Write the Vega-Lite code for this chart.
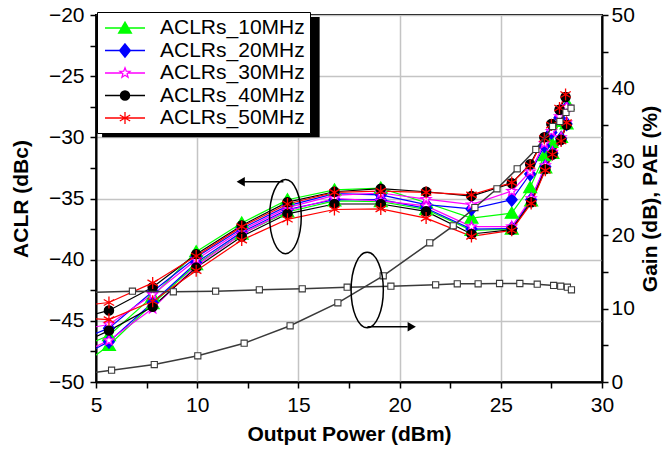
{
  "$schema": "https://vega.github.io/schema/vega-lite/v6.json",
  "width": 506,
  "height": 367,
  "autosize": "none",
  "padding": {"left": 96, "top": 15, "right": 67, "bottom": 73},
  "background": "white",
  "config": {
    "font": "Liberation Sans",
    "view": {"stroke": "black", "strokeWidth": 2},
    "axis": {
      "domainColor": "black", "domainWidth": 2,
      "tickColor": "black", "tickWidth": 1.5, "tickSize": 6,
      "labelFont": "Liberation Sans", "labelFontSize": 21, "labelColor": "black",
      "titleFont": "Liberation Sans", "titleFontSize": 21, "titleFontWeight": "bold", "titleColor": "black",
      "gridColor": "#c4c4c4", "gridWidth": 1.5
    },
    "legend": {
      "labelFont": "Liberation Sans", "labelFontSize": 21, "labelColor": "black",
      "symbolSize": 400, "padding": 5, "rowPadding": 1.5, "labelOffset": 24, "symbolOffset": 12,
      "symbolStrokeWidth": 1.3
    }
  },
  "datasets": {
    "aclr": [
      {"s":"ACLRs_10MHz","c":"U","x":4.6,"y":-46.9},{"s":"ACLRs_10MHz","c":"U","x":5.64,"y":-46.2},{"s":"ACLRs_10MHz","c":"U","x":7.8,"y":-43.0},{"s":"ACLRs_10MHz","c":"U","x":9.95,"y":-39.35},{"s":"ACLRs_10MHz","c":"U","x":12.2,"y":-37.0},{"s":"ACLRs_10MHz","c":"U","x":14.46,"y":-35.1},{"s":"ACLRs_10MHz","c":"U","x":16.78,"y":-34.3},{"s":"ACLRs_10MHz","c":"U","x":19.07,"y":-34.15},{"s":"ACLRs_10MHz","c":"U","x":21.31,"y":-35.35},{"s":"ACLRs_10MHz","c":"U","x":23.55,"y":-36.6},{"s":"ACLRs_10MHz","c":"U","x":25.54,"y":-36.2},{"s":"ACLRs_10MHz","c":"U","x":26.45,"y":-34.1},{"s":"ACLRs_10MHz","c":"U","x":27.15,"y":-31.5},{"s":"ACLRs_10MHz","c":"U","x":27.5,"y":-30.4},{"s":"ACLRs_10MHz","c":"U","x":27.9,"y":-28.7},{"s":"ACLRs_10MHz","c":"U","x":28.3,"y":-27.3},
      {"s":"ACLRs_10MHz","c":"L","x":4.6,"y":-48.3},{"s":"ACLRs_10MHz","c":"L","x":5.64,"y":-47.0},{"s":"ACLRs_10MHz","c":"L","x":7.8,"y":-43.6},{"s":"ACLRs_10MHz","c":"L","x":9.95,"y":-40.4},{"s":"ACLRs_10MHz","c":"L","x":12.2,"y":-37.9},{"s":"ACLRs_10MHz","c":"L","x":14.46,"y":-36.1},{"s":"ACLRs_10MHz","c":"L","x":16.78,"y":-35.2},{"s":"ACLRs_10MHz","c":"L","x":19.07,"y":-35.25},{"s":"ACLRs_10MHz","c":"L","x":21.31,"y":-35.9},{"s":"ACLRs_10MHz","c":"L","x":23.55,"y":-37.6},{"s":"ACLRs_10MHz","c":"L","x":25.54,"y":-37.5},{"s":"ACLRs_10MHz","c":"L","x":26.5,"y":-35.2},{"s":"ACLRs_10MHz","c":"L","x":27.2,"y":-32.5},{"s":"ACLRs_10MHz","c":"L","x":27.55,"y":-31.3},{"s":"ACLRs_10MHz","c":"L","x":27.98,"y":-30.0},{"s":"ACLRs_10MHz","c":"L","x":28.25,"y":-28.9},
      {"s":"ACLRs_20MHz","c":"U","x":4.6,"y":-46.3},{"s":"ACLRs_20MHz","c":"U","x":5.64,"y":-45.6},{"s":"ACLRs_20MHz","c":"U","x":7.8,"y":-42.6},{"s":"ACLRs_20MHz","c":"U","x":9.95,"y":-39.8},{"s":"ACLRs_20MHz","c":"U","x":12.2,"y":-37.45},{"s":"ACLRs_20MHz","c":"U","x":14.46,"y":-35.6},{"s":"ACLRs_20MHz","c":"U","x":16.78,"y":-34.6},{"s":"ACLRs_20MHz","c":"U","x":19.07,"y":-34.7},{"s":"ACLRs_20MHz","c":"U","x":21.31,"y":-35.5},{"s":"ACLRs_20MHz","c":"U","x":23.55,"y":-35.85},{"s":"ACLRs_20MHz","c":"U","x":25.54,"y":-35.1},{"s":"ACLRs_20MHz","c":"U","x":26.45,"y":-33.0},{"s":"ACLRs_20MHz","c":"U","x":27.15,"y":-30.7},{"s":"ACLRs_20MHz","c":"U","x":27.5,"y":-29.6},{"s":"ACLRs_20MHz","c":"U","x":27.9,"y":-28.4},{"s":"ACLRs_20MHz","c":"U","x":28.25,"y":-27.6},
      {"s":"ACLRs_20MHz","c":"L","x":4.6,"y":-47.6},{"s":"ACLRs_20MHz","c":"L","x":5.64,"y":-46.7},{"s":"ACLRs_20MHz","c":"L","x":7.8,"y":-43.5},{"s":"ACLRs_20MHz","c":"L","x":9.95,"y":-40.25},{"s":"ACLRs_20MHz","c":"L","x":12.2,"y":-37.75},{"s":"ACLRs_20MHz","c":"L","x":14.46,"y":-35.9},{"s":"ACLRs_20MHz","c":"L","x":16.78,"y":-35.1},{"s":"ACLRs_20MHz","c":"L","x":19.07,"y":-35.1},{"s":"ACLRs_20MHz","c":"L","x":21.31,"y":-35.8},{"s":"ACLRs_20MHz","c":"L","x":23.55,"y":-37.5},{"s":"ACLRs_20MHz","c":"L","x":25.54,"y":-37.45},{"s":"ACLRs_20MHz","c":"L","x":26.5,"y":-35.1},{"s":"ACLRs_20MHz","c":"L","x":27.2,"y":-32.4},{"s":"ACLRs_20MHz","c":"L","x":27.55,"y":-31.3},{"s":"ACLRs_20MHz","c":"L","x":27.98,"y":-30.1},{"s":"ACLRs_20MHz","c":"L","x":28.25,"y":-28.9},
      {"s":"ACLRs_30MHz","c":"U","x":4.6,"y":-45.6},{"s":"ACLRs_30MHz","c":"U","x":5.64,"y":-45.3},{"s":"ACLRs_30MHz","c":"U","x":7.8,"y":-42.85},{"s":"ACLRs_30MHz","c":"U","x":9.95,"y":-40.0},{"s":"ACLRs_30MHz","c":"U","x":12.2,"y":-37.6},{"s":"ACLRs_30MHz","c":"U","x":14.46,"y":-35.75},{"s":"ACLRs_30MHz","c":"U","x":16.78,"y":-34.75},{"s":"ACLRs_30MHz","c":"U","x":19.07,"y":-34.55},{"s":"ACLRs_30MHz","c":"U","x":21.31,"y":-35.05},{"s":"ACLRs_30MHz","c":"U","x":23.55,"y":-35.5},{"s":"ACLRs_30MHz","c":"U","x":25.54,"y":-34.4},{"s":"ACLRs_30MHz","c":"U","x":26.45,"y":-32.8},{"s":"ACLRs_30MHz","c":"U","x":27.15,"y":-30.5},{"s":"ACLRs_30MHz","c":"U","x":27.5,"y":-29.5},{"s":"ACLRs_30MHz","c":"U","x":27.9,"y":-28.3},{"s":"ACLRs_30MHz","c":"U","x":28.25,"y":-27.5},
      {"s":"ACLRs_30MHz","c":"L","x":4.6,"y":-47.4},{"s":"ACLRs_30MHz","c":"L","x":5.64,"y":-46.6},{"s":"ACLRs_30MHz","c":"L","x":7.8,"y":-44.0},{"s":"ACLRs_30MHz","c":"L","x":9.95,"y":-40.5},{"s":"ACLRs_30MHz","c":"L","x":12.2,"y":-37.9},{"s":"ACLRs_30MHz","c":"L","x":14.46,"y":-36.0},{"s":"ACLRs_30MHz","c":"L","x":16.78,"y":-35.0},{"s":"ACLRs_30MHz","c":"L","x":19.07,"y":-35.2},{"s":"ACLRs_30MHz","c":"L","x":21.31,"y":-35.6},{"s":"ACLRs_30MHz","c":"L","x":23.55,"y":-37.3},{"s":"ACLRs_30MHz","c":"L","x":25.54,"y":-37.3},{"s":"ACLRs_30MHz","c":"L","x":26.5,"y":-35.0},{"s":"ACLRs_30MHz","c":"L","x":27.2,"y":-32.3},{"s":"ACLRs_30MHz","c":"L","x":27.55,"y":-31.2},{"s":"ACLRs_30MHz","c":"L","x":27.98,"y":-30.0},{"s":"ACLRs_30MHz","c":"L","x":28.25,"y":-28.8},
      {"s":"ACLRs_40MHz","c":"U","x":4.6,"y":-44.6},{"s":"ACLRs_40MHz","c":"U","x":5.64,"y":-44.15},{"s":"ACLRs_40MHz","c":"U","x":7.8,"y":-42.25},{"s":"ACLRs_40MHz","c":"U","x":9.95,"y":-39.55},{"s":"ACLRs_40MHz","c":"U","x":12.2,"y":-37.2},{"s":"ACLRs_40MHz","c":"U","x":14.46,"y":-35.3},{"s":"ACLRs_40MHz","c":"U","x":16.78,"y":-34.45},{"s":"ACLRs_40MHz","c":"U","x":19.07,"y":-34.2},{"s":"ACLRs_40MHz","c":"U","x":21.31,"y":-34.45},{"s":"ACLRs_40MHz","c":"U","x":23.55,"y":-34.8},{"s":"ACLRs_40MHz","c":"U","x":25.54,"y":-33.75},{"s":"ACLRs_40MHz","c":"U","x":26.45,"y":-32.2},{"s":"ACLRs_40MHz","c":"U","x":27.15,"y":-30.0},{"s":"ACLRs_40MHz","c":"U","x":27.5,"y":-28.9},{"s":"ACLRs_40MHz","c":"U","x":27.9,"y":-27.75},{"s":"ACLRs_40MHz","c":"U","x":28.2,"y":-26.7},
      {"s":"ACLRs_40MHz","c":"L","x":4.6,"y":-46.6},{"s":"ACLRs_40MHz","c":"L","x":5.64,"y":-45.8},{"s":"ACLRs_40MHz","c":"L","x":7.8,"y":-43.85},{"s":"ACLRs_40MHz","c":"L","x":9.95,"y":-40.65},{"s":"ACLRs_40MHz","c":"L","x":12.2,"y":-38.1},{"s":"ACLRs_40MHz","c":"L","x":14.46,"y":-36.25},{"s":"ACLRs_40MHz","c":"L","x":16.78,"y":-35.45},{"s":"ACLRs_40MHz","c":"L","x":19.07,"y":-35.45},{"s":"ACLRs_40MHz","c":"L","x":21.31,"y":-36.05},{"s":"ACLRs_40MHz","c":"L","x":23.55,"y":-37.9},{"s":"ACLRs_40MHz","c":"L","x":25.54,"y":-37.55},{"s":"ACLRs_40MHz","c":"L","x":26.5,"y":-35.3},{"s":"ACLRs_40MHz","c":"L","x":27.2,"y":-32.6},{"s":"ACLRs_40MHz","c":"L","x":27.55,"y":-31.4},{"s":"ACLRs_40MHz","c":"L","x":27.98,"y":-30.2},{"s":"ACLRs_40MHz","c":"L","x":28.25,"y":-29.0},
      {"s":"ACLRs_50MHz","c":"U","x":4.6,"y":-43.7},{"s":"ACLRs_50MHz","c":"U","x":5.64,"y":-43.5},{"s":"ACLRs_50MHz","c":"U","x":7.8,"y":-41.9},{"s":"ACLRs_50MHz","c":"U","x":9.95,"y":-39.7},{"s":"ACLRs_50MHz","c":"U","x":12.2,"y":-37.3},{"s":"ACLRs_50MHz","c":"U","x":14.46,"y":-35.45},{"s":"ACLRs_50MHz","c":"U","x":16.78,"y":-34.5},{"s":"ACLRs_50MHz","c":"U","x":19.07,"y":-34.4},{"s":"ACLRs_50MHz","c":"U","x":21.31,"y":-34.5},{"s":"ACLRs_50MHz","c":"U","x":23.55,"y":-34.7},{"s":"ACLRs_50MHz","c":"U","x":25.54,"y":-33.7},{"s":"ACLRs_50MHz","c":"U","x":26.45,"y":-32.3},{"s":"ACLRs_50MHz","c":"U","x":27.15,"y":-30.1},{"s":"ACLRs_50MHz","c":"U","x":27.5,"y":-29.0},{"s":"ACLRs_50MHz","c":"U","x":27.9,"y":-27.6},{"s":"ACLRs_50MHz","c":"U","x":28.2,"y":-26.5},
      {"s":"ACLRs_50MHz","c":"L","x":4.6,"y":-44.8},{"s":"ACLRs_50MHz","c":"L","x":5.64,"y":-44.9},{"s":"ACLRs_50MHz","c":"L","x":7.8,"y":-43.4},{"s":"ACLRs_50MHz","c":"L","x":9.95,"y":-40.9},{"s":"ACLRs_50MHz","c":"L","x":12.2,"y":-38.4},{"s":"ACLRs_50MHz","c":"L","x":14.46,"y":-36.7},{"s":"ACLRs_50MHz","c":"L","x":16.78,"y":-35.9},{"s":"ACLRs_50MHz","c":"L","x":19.07,"y":-35.85},{"s":"ACLRs_50MHz","c":"L","x":21.31,"y":-36.6},{"s":"ACLRs_50MHz","c":"L","x":23.55,"y":-38.1},{"s":"ACLRs_50MHz","c":"L","x":25.54,"y":-37.6},{"s":"ACLRs_50MHz","c":"L","x":26.5,"y":-35.4},{"s":"ACLRs_50MHz","c":"L","x":27.2,"y":-32.7},{"s":"ACLRs_50MHz","c":"L","x":27.55,"y":-31.4},{"s":"ACLRs_50MHz","c":"L","x":27.98,"y":-30.3},{"s":"ACLRs_50MHz","c":"L","x":28.25,"y":-28.8}
    ],
    "gainpae": [
      {"k":"gain","x":4.6,"v":12.2},{"k":"gain","x":6.8,"v":12.37},{"k":"gain","x":8.82,"v":12.29},{"k":"gain","x":10.91,"v":12.37},{"k":"gain","x":13.07,"v":12.56},{"k":"gain","x":15.19,"v":12.7},{"k":"gain","x":17.41,"v":12.92},{"k":"gain","x":19.57,"v":13.05},{"k":"gain","x":21.78,"v":13.24},{"k":"gain","x":22.85,"v":13.38},{"k":"gain","x":23.88,"v":13.38},{"k":"gain","x":24.94,"v":13.42},{"k":"gain","x":25.94,"v":13.42},{"k":"gain","x":26.8,"v":13.33},{"k":"gain","x":27.61,"v":13.15},{"k":"gain","x":27.96,"v":13.05},{"k":"gain","x":28.29,"v":12.92},{"k":"gain","x":28.49,"v":12.56},
      {"k":"pae","x":4.6,"v":1.19},{"k":"pae","x":5.77,"v":1.61},{"k":"pae","x":7.88,"v":2.38},{"k":"pae","x":10.03,"v":3.57},{"k":"pae","x":12.32,"v":5.29},{"k":"pae","x":14.59,"v":7.66},{"k":"pae","x":16.95,"v":10.79},{"k":"pae","x":19.19,"v":14.47},{"k":"pae","x":21.49,"v":18.96},{"k":"pae","x":22.65,"v":21.28},{"k":"pae","x":23.72,"v":23.77},{"k":"pae","x":24.81,"v":26.32},{"k":"pae","x":25.81,"v":29.05},{"k":"pae","x":26.73,"v":31.68},{"k":"pae","x":27.56,"v":34.8},{"k":"pae","x":27.92,"v":35.5},{"k":"pae","x":28.22,"v":36.73},{"k":"pae","x":28.47,"v":37.3}
    ]
  },
  "layer": [
    {
      "mark": {"type": "rule", "color": "black", "strokeWidth": 2},
      "encoding": {
        "y": {"datum": -30, "type": "quantitative", "scale": {"domain": [-50, -20]}, "axis": null}
      }
    },
    {
      "data": {"name": "aclr"},
      "mark": {"type": "line", "strokeWidth": 1.2, "clip": true},
      "encoding": {
        "x": {"field": "x", "type": "quantitative", "scale": {"domain": [5, 30], "nice": false, "zero": false},
          "axis": {"orient": "bottom", "title": null, "values": [7.5, 12.5, 17.5, 22.5, 27.5], "labels": false, "domain": false, "grid": false, "ticks": true, "maxExtent": 0, "minExtent": 0}},
        "y": {"field": "y", "type": "quantitative", "scale": {"domain": [-50, -20], "nice": false, "zero": false},
          "axis": {"orient": "left", "title": null, "values": [-47.5, -42.5, -37.5, -32.5, -27.5, -22.5], "labels": false, "domain": false, "grid": false, "ticks": true, "maxExtent": 0, "minExtent": 0}},
        "stroke": {"field": "s", "type": "nominal", "legend": null,
          "scale": {"domain": ["ACLRs_10MHz", "ACLRs_20MHz", "ACLRs_30MHz", "ACLRs_40MHz", "ACLRs_50MHz"], "range": ["#00ff00", "#0000ff", "#ff00ff", "#000000", "#ff0000"]}},
        "detail": {"field": "c"}
      }
    },
    {
      "data": {"name": "aclr"},
      "mark": {"type": "point", "size": 400, "strokeWidth": 1.3, "opacity": 1, "clip": true},
      "encoding": {
        "x": {"field": "x", "type": "quantitative", "scale": {"domain": [5, 30]}, "axis": null},
        "y": {"field": "y", "type": "quantitative", "scale": {"domain": [-50, -20], "nice": false},
          "axis": {"orient": "left", "title": "ACLR (dBc)", "values": [-50, -45, -40, -35, -30, -25, -20], "grid": true,
            "labelFlush": false, "labelOverlap": false, "labelPadding": 6, "titlePadding": 17}},
        "stroke": {"field": "s", "type": "nominal", "legend": null,
          "scale": {"domain": ["ACLRs_10MHz", "ACLRs_20MHz", "ACLRs_30MHz", "ACLRs_40MHz", "ACLRs_50MHz"], "range": ["#00ff00", "#0000ff", "#ff00ff", "#000000", "#ff0000"]}},
        "fill": {"field": "s", "type": "nominal", "legend": null,
          "scale": {"domain": ["ACLRs_10MHz", "ACLRs_20MHz", "ACLRs_30MHz", "ACLRs_40MHz", "ACLRs_50MHz"], "range": ["#00ff00", "#0000ff", "#ffffff", "#000000", "transparent"]}},
        "shape": {"field": "s", "type": "nominal", "legend": null,
          "scale": {"domain": ["ACLRs_10MHz", "ACLRs_20MHz", "ACLRs_30MHz", "ACLRs_40MHz", "ACLRs_50MHz"],
            "range": ["M0,-0.6L0.64,0.5L-0.64,0.5Z", "M0,-0.66L0.54,0L0,0.66L-0.54,0Z", "M0,-0.52L0.13,-0.178L0.494,-0.16L0.21,0.068L0.306,0.42L0,0.22L-0.306,0.42L-0.21,0.068L-0.494,-0.16L-0.13,-0.178Z", "M0,-0.46C0.254,-0.46 0.46,-0.254 0.46,0C0.46,0.254 0.254,0.46 0,0.46C-0.254,0.46 -0.46,0.254 -0.46,0C-0.46,-0.254 -0.254,-0.46 0,-0.46Z", "M0,-0.6V0.6M-0.52,-0.3L0.52,0.3M-0.52,0.3L0.52,-0.3"]}},
        "detail": {"field": "c"}
      }
    },
    {
      "data": {"name": "aclr"},
      "mark": {"type": "point", "size": 400, "strokeWidth": 1.3, "filled": true, "opacity": 0},
      "encoding": {
        "x": {"field": "x", "type": "quantitative", "scale": {"domain": [5, 30]}, "axis": null},
        "y": {"field": "y", "type": "quantitative", "scale": {"domain": [-50, -20]}, "axis": null},
        "color": {"field": "s", "type": "nominal",
          "scale": {"domain": ["ACLRs_10MHz", "ACLRs_20MHz", "ACLRs_30MHz", "ACLRs_40MHz", "ACLRs_50MHz"], "range": ["#00ff00", "#0000ff", "#ffffff", "#000000", "transparent"]},
          "legend": {"title": null, "orient": "none", "legendX": 1, "legendY": -3, "fillColor": "white", "strokeColor": "black", "symbolOpacity": 1, "zindex": 1, "labelExpr": "datum.label + ' '"}},
        "stroke": {"field": "s", "type": "nominal",
          "scale": {"domain": ["ACLRs_10MHz", "ACLRs_20MHz", "ACLRs_30MHz", "ACLRs_40MHz", "ACLRs_50MHz"], "range": ["#00ff00", "#0000ff", "#ff00ff", "#000000", "#ff0000"]}},
        "shape": {"field": "s", "type": "nominal",
          "scale": {"domain": ["ACLRs_10MHz", "ACLRs_20MHz", "ACLRs_30MHz", "ACLRs_40MHz", "ACLRs_50MHz"],
            "range": [
              "M-2,0H2M0,-0.6L0.64,0.5L-0.64,0.5ZM-0.06,-0.5H0.06M-0.12,-0.4H0.12M-0.17,-0.3H0.17M-0.23,-0.2H0.23M-0.29,-0.1H0.29M-0.35,0H0.35M-0.41,0.1H0.41M-0.47,0.2H0.47M-0.52,0.3H0.52M-0.58,0.4H0.58",
              "M-2,0H2M0,-0.66L0.54,0L0,0.66L-0.54,0ZM-0.05,-0.6H0.05M-0.13,-0.5H0.13M-0.21,-0.4H0.21M-0.3,-0.3H0.3M-0.38,-0.2H0.38M-0.46,-0.1H0.46M-0.46,0.1H0.46M-0.38,0.2H0.38M-0.3,0.3H0.3M-0.21,0.4H0.21M-0.13,0.5H0.13M-0.05,0.6H0.05",
              "M-2,0H-0.3M0.3,0H2M0,-0.52L0.13,-0.178L0.494,-0.16L0.21,0.068L0.306,0.42L0,0.22L-0.306,0.42L-0.21,0.068L-0.494,-0.16L-0.13,-0.178Z",
              "M-2,0H2M0,-0.46C0.254,-0.46 0.46,-0.254 0.46,0C0.46,0.254 0.254,0.46 0,0.46C-0.254,0.46 -0.46,0.254 -0.46,0C-0.46,-0.254 -0.254,-0.46 0,-0.46ZM-0.23,-0.4H0.23M-0.35,-0.3H0.35M-0.41,-0.2H0.41M-0.45,-0.1H0.45M-0.45,0.1H0.45M-0.41,0.2H0.41M-0.35,0.3H0.35M-0.23,0.4H0.23",
              "M-2,0H2M0,-0.6V0.6M-0.52,-0.3L0.52,0.3M-0.52,0.3L0.52,-0.3"
            ]}}
      }
    },
    {
      "data": {"values": [{"x": 5.3, "x2": 16.05, "y": -20.16, "y2": -30.0}]},
      "mark": {"type": "rect", "color": "black"},
      "encoding": {
        "x": {"field": "x", "type": "quantitative", "scale": {"domain": [5, 30]}, "axis": null},
        "x2": {"field": "x2"},
        "y": {"field": "y", "type": "quantitative", "scale": {"domain": [-50, -20]}, "axis": null},
        "y2": {"field": "y2"}
      }
    },
    {
      "data": {"values": [{"x": 14.36, "y": -36.48}]},
      "mark": {"type": "point", "shape": "M0,-1C0.236,-1 0.427,-0.552 0.427,0C0.427,0.552 0.236,1 0,1C-0.236,1 -0.427,0.552 -0.427,0C-0.427,-0.552 -0.236,-1 0,-1Z", "size": 5500, "stroke": "black", "strokeWidth": 1.5, "filled": false, "opacity": 1},
      "encoding": {
        "x": {"field": "x", "type": "quantitative", "scale": {"domain": [5, 30]}, "axis": null},
        "y": {"field": "y", "type": "quantitative", "scale": {"domain": [-50, -20]}, "axis": null}
      }
    },
    {
      "data": {"values": [{"x": 14.26, "x2": 12.3, "y": -33.64}]},
      "mark": {"type": "rule", "color": "black", "strokeWidth": 1.5},
      "encoding": {
        "x": {"field": "x", "type": "quantitative", "scale": {"domain": [5, 30]}, "axis": null},
        "x2": {"field": "x2"},
        "y": {"field": "y", "type": "quantitative", "scale": {"domain": [-50, -20]}, "axis": null}
      }
    },
    {
      "data": {"values": [{"x": 12.15, "y": -33.64}]},
      "mark": {"type": "point", "shape": "triangle-left", "size": 90, "filled": true, "color": "black", "opacity": 1},
      "encoding": {
        "x": {"field": "x", "type": "quantitative", "scale": {"domain": [5, 30]}, "axis": null},
        "y": {"field": "y", "type": "quantitative", "scale": {"domain": [-50, -20]}, "axis": null}
      }
    },
    {
      "data": {"name": "gainpae"},
      "mark": {"type": "line", "color": "#3a3a3a", "strokeWidth": 1.5, "clip": true},
      "encoding": {
        "x": {"field": "x", "type": "quantitative", "scale": {"domain": [5, 30]},
          "axis": {"orient": "bottom", "title": "Output Power (dBm)", "values": [5, 10, 15, 20, 25, 30], "grid": true,
            "labelFlush": false, "labelOverlap": false, "labelPadding": 6, "titlePadding": 8}},
        "y": {"field": "v", "type": "quantitative", "scale": {"domain": [0, 50], "nice": false},
          "axis": {"orient": "right", "title": null, "values": [5, 15, 25, 35, 45], "labels": false, "domain": false, "grid": false, "ticks": true, "maxExtent": 0, "minExtent": 0}},
        "detail": {"field": "k"}
      }
    },
    {
      "data": {"name": "gainpae"},
      "mark": {"type": "point", "shape": "square", "size": 38, "fill": "white", "stroke": "#3a3a3a", "strokeWidth": 1.1, "filled": false, "opacity": 1, "clip": true},
      "encoding": {
        "x": {"field": "x", "type": "quantitative", "scale": {"domain": [5, 30]}, "axis": null},
        "y": {"field": "v", "type": "quantitative", "scale": {"domain": [0, 50], "nice": false},
          "axis": {"orient": "right", "title": "Gain (dB), PAE (%)", "values": [0, 10, 20, 30, 40, 50], "grid": false,
            "labelFlush": false, "labelOverlap": false, "labelPadding": 3, "titlePadding": 26, "titleAngle": 270}}
      }
    },
    {
      "data": {"values": [{"x": 18.4, "v": 12.53}]},
      "mark": {"type": "point", "shape": "M0,-1C0.236,-1 0.427,-0.552 0.427,0C0.427,0.552 0.236,1 0,1C-0.236,1 -0.427,0.552 -0.427,0C-0.427,-0.552 -0.236,-1 0,-1Z", "size": 5700, "stroke": "black", "strokeWidth": 1.5, "filled": false, "opacity": 1},
      "encoding": {
        "x": {"field": "x", "type": "quantitative", "scale": {"domain": [5, 30]}, "axis": null},
        "y": {"field": "v", "type": "quantitative", "scale": {"domain": [0, 50]}, "axis": null}
      }
    },
    {
      "data": {"values": [{"x": 18.41, "x2": 20.4, "v": 7.52}]},
      "mark": {"type": "rule", "color": "black", "strokeWidth": 1.5},
      "encoding": {
        "x": {"field": "x", "type": "quantitative", "scale": {"domain": [5, 30]}, "axis": null},
        "x2": {"field": "x2"},
        "y": {"field": "v", "type": "quantitative", "scale": {"domain": [0, 50]}, "axis": null}
      }
    },
    {
      "data": {"values": [{"x": 20.6, "v": 7.52}]},
      "mark": {"type": "point", "shape": "triangle-right", "size": 90, "filled": true, "color": "black", "opacity": 1},
      "encoding": {
        "x": {"field": "x", "type": "quantitative", "scale": {"domain": [5, 30]}, "axis": null},
        "y": {"field": "v", "type": "quantitative", "scale": {"domain": [0, 50]}, "axis": null}
      }
    }
  ],
  "resolve": {
    "scale": {"y": "independent", "stroke": "independent", "fill": "independent", "shape": "independent", "color": "independent"},
    "axis": {"x": "independent"}
  }
}
